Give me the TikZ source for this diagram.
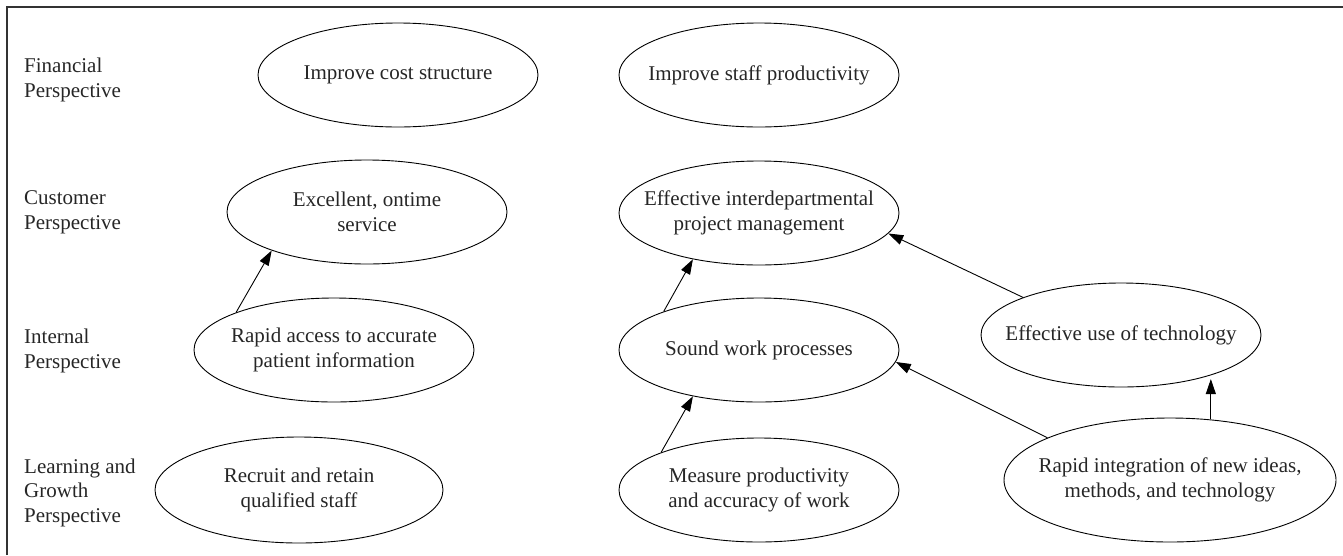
\documentclass[tikz,border=0pt]{standalone}
\usepackage{fontspec}
\setmainfont{Liberation Serif}
\usetikzlibrary{shapes.geometric,arrows.meta}

\begin{document}
\begin{tikzpicture}[
    x=1pt, y=-1pt,
    font=\fontsize{21}{24.5}\selectfont,
    oval/.style={draw, ellipse, line width=0.9pt, inner sep=0pt,
                 minimum width=280pt, minimum height=104pt},
    txt/.style={align=center, inner sep=0pt, text=black!85},
    persp/.style={anchor=west, align=left, inner sep=0pt, text=black!85},
    arr/.style={-{Triangle[length=15pt,width=10pt]}, line width=0.9pt},
  ]
  \useasboundingbox (0,0) rectangle (1343,555);

  % frame
  \draw[line width=1.5pt, black!80] (7,555) -- (7,7) -- (1343,7);

  % perspective labels
  \node[persp] (lfin)  at (24,80)    {Financial\\Perspective};
  \node[persp] (lcust) at (24,212.5) {Customer\\Perspective};
  \node[persp] (lint)  at (24,351)   {Internal\\Perspective};
  \node[persp] (llg)   at (24,492.5) {Learning and\\Growth\\Perspective};

  % financial
  \node[oval, label={[txt]center:Improve cost structure}] (cost) at (398,75) {};
  \node[oval, label={[txt]center:Improve staff productivity}] (staff) at (759,75) {};

  % customer
  \node[oval, label={[txt]center:Excellent, ontime\\service}] (serv) at (367,212) {};
  \node[oval, label={[txt]center:Effective interdepartmental\\project management}] (proj) at (759,213) {};

  % internal
  \node[oval, label={[txt]center:Rapid access to accurate\\patient information}] (access) at (334,350) {};
  \node[oval, label={[txt]center:Sound work processes}] (sound) at (759,350) {};
  \node[oval, label={[txt]center:Effective use of technology}] (tech) at (1121,335) {};

  % learning and growth
  \node[oval, minimum width=288pt, minimum height=106pt,
        label={[txt]center:Recruit and retain\\qualified staff}] (recruit) at (299,490) {};
  \node[oval, label={[txt]center:Measure productivity\\and accuracy of work}] (measure) at (759,490) {};
  \node[oval, minimum width=332pt, minimum height=124pt,
        label={[txt]center:Rapid integration of new ideas,\\methods, and technology}] (integ) at (1170,480) {};

  % cause-and-effect links
  \draw[arr] (access.159.3) -- (serv.202.3);
  \draw[arr] (sound.158) -- (proj.215.4);
  \draw[arr] (measure.159) -- (sound.215.2);
  \draw[arr] (tech.159.5) -- (proj.351.9);
  \draw[arr] (integ.161.8) -- (sound.355.1);
  \draw[arr] (integ.56.5) -- (integ.56.5 |- tech.330);
\end{tikzpicture}
\end{document}
